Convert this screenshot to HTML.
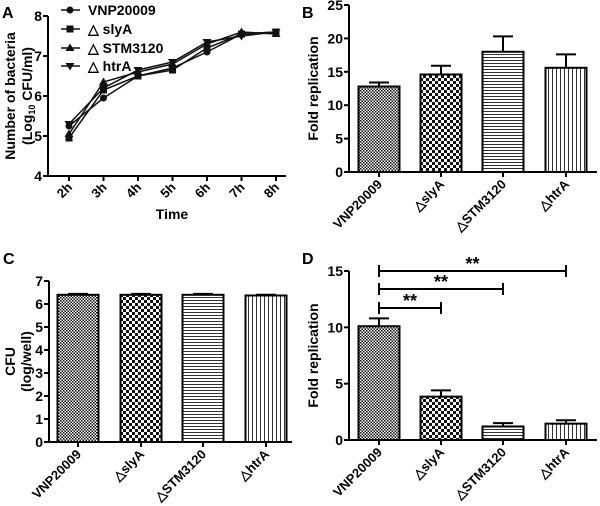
<!DOCTYPE html>
<html><head><meta charset="utf-8"><style>
html,body{margin:0;padding:0;background:#fff;width:600px;height:506px;overflow:hidden}
svg{display:block;font-family:"Liberation Sans",Arial,sans-serif;font-weight:bold}
</style></head><body>
<svg id="fig" width="600" height="506" viewBox="0 0 600 506" xmlns="http://www.w3.org/2000/svg">
<defs>
<pattern id="pVnp" width="3" height="3" patternUnits="userSpaceOnUse"><rect width="3" height="3" fill="#fff"/><rect width="1.5" height="1.5" fill="#111"/><rect x="1.5" y="1.5" width="1.5" height="1.5" fill="#111"/></pattern>
<pattern id="pSly" width="6" height="6" patternUnits="userSpaceOnUse"><rect width="6" height="6" fill="#fff"/><rect width="3" height="3" fill="#111"/><rect x="3" y="3" width="3" height="3" fill="#111"/></pattern>
<pattern id="pStm" width="4" height="3" patternUnits="userSpaceOnUse"><rect width="4" height="3" fill="#fff"/><rect width="4" height="1" fill="#333"/></pattern>
<pattern id="pHtr" width="4" height="4" patternUnits="userSpaceOnUse"><rect width="4" height="4" fill="#fff"/><rect width="1" height="4" fill="#333"/></pattern>
</defs>
</svg>
<script>
// Panel A data
const timeLabels=["2h","3h","4h","5h","6h","7h","8h"];
const seriesNames=["VNP20009","△ slyA","△ STM3120","△ htrA"];
const vnpGrowth=[5.25,5.95,6.5,6.7,7.1,7.55,7.6];
const slyGrowth=[4.95,6.15,6.5,6.65,7.2,7.55,7.6];
const stmGrowth=[5.05,6.35,6.6,6.8,7.3,7.6,7.55];
const htrGrowth=[5.3,6.2,6.65,6.85,7.35,7.5,7.6];
const aTicks=[4,5,6,7,8];
// Bar categories
const barCats=["VNP20009","△slyA","△STM3120","△htrA"];
// Panel B
const bVals=[12.8,14.6,18.0,15.6];
const bErr=[0.6,1.3,2.3,2.0];
const bTicks=[0,5,10,15,20,25];
// Panel C
const cVals=[6.4,6.4,6.4,6.37];
const cErr=[0.04,0.04,0.04,0.03];
const cTicks=[0,1,2,3,4,5,6,7];
// Panel D
const dVals=[10.1,3.85,1.2,1.45];
const dErr=[0.7,0.55,0.3,0.3];
const dTicks=[0,5,10,15];
const dSigTargets=[1,2,3];
const dSigLabels=["**","**","**"];

const NS="http://www.w3.org/2000/svg";
const svg=document.getElementById('fig');
function mk(tag,attrs,parent,text){const e=document.createElementNS(NS,tag);for(const k in attrs)e.setAttribute(k,attrs[k]);if(text!==undefined)e.textContent=text;(parent||svg).appendChild(e);return e;}
function grp(name){const g=mk('g',{});return g;}

function yAxis(g,x,y0,y1,ticks,sc){
  mk('line',{x1:x,y1:y0+1,x2:x,y2:y1,stroke:'#000','stroke-width':2},g);
  ticks.forEach(t=>{const y=sc(t);mk('line',{x1:x-5,y1:y,x2:x,y2:y,stroke:'#000','stroke-width':2},g);
    const tx=mk('text',{x:x-6,y:y+5,'text-anchor':'end','font-size':14},g,String(t));
    });
}
function label(txt,x,y){const t=mk('text',{x:x,y:y,'font-size':16},svg,txt);}

// ---------- Panel A ----------
(function(){
  const g=grp('panel-a-line-chart');
  const ax=48, y=v=>16+(8-v)*40, x=i=>69+i*34.5;
  yAxis(g,ax,176,16,aTicks,y);
  mk('line',{x1:ax-1,y1:176,x2:286,y2:176,stroke:'#000','stroke-width':2},g);
  timeLabels.forEach((l,i)=>{mk('line',{x1:x(i),y1:176,x2:x(i),y2:181,stroke:'#000','stroke-width':2},g);
    const t=mk('text',{x:x(i)+4,y:188,'text-anchor':'end','font-size':13,transform:`rotate(-45 ${x(i)+4} 188)`},g,l);
    });
  const xt=mk('text',{x:172,y:219,'text-anchor':'middle','font-size':14},g,'Time');
  const yt=mk('text',{transform:'translate(15,96) rotate(-90)','text-anchor':'middle','font-size':14},g,'Number of bacteria');
  const yt2=mk('text',{transform:'translate(32,96) rotate(-90)','text-anchor':'middle','font-size':14},g);
  mk('tspan',{},yt2,'(Log');mk('tspan',{'font-size':9,dy:3},yt2,'10');mk('tspan',{dy:-3},yt2,' CFU/ml)');
  const all=[vnpGrowth,slyGrowth,stmGrowth,htrGrowth];
  const names=['series-vnp20009','series-slya','series-stm3120','series-htra'];
  function marker(k,cx,cy,p){
    if(k===0)return mk('circle',{cx:cx,cy:cy,r:3.5,fill:'#111'},p);
    if(k===1)return mk('rect',{x:cx-3.5,y:cy-3.5,width:7,height:7,fill:'#111'},p);
    if(k===2)return mk('polygon',{points:`${cx},${cy-4.5} ${cx-4.5},${cy+3} ${cx+4.5},${cy+3}`,fill:'#111'},p);
    return mk('polygon',{points:`${cx},${cy+4.5} ${cx-4.5},${cy-3} ${cx+4.5},${cy-3}`,fill:'#111'},p);
  }
  all.forEach((s,k)=>{const sg=mk('g',{},g);
    mk('polyline',{points:s.map((v,i)=>x(i)+','+y(v)).join(' '),fill:'none',stroke:'#111','stroke-width':1.5},sg);
    s.forEach((v,i)=>{const m=marker(k,x(i),y(v),sg);});
  });
  const lg=grp('legend');
  seriesNames.forEach((n,k)=>{const ly=[10,29,48,66][k];
    const e=mk('g',{},lg);
    mk('line',{x1:61,y1:ly,x2:80,y2:ly,stroke:'#111','stroke-width':1.5},e);marker(k,70,ly,e);
    mk('text',{x:88,y:ly+5,'font-size':14},e,n);});
})();
label('A',2,18);

// ---------- bar helper ----------
function barPanel(name,ax,y0,yTop,maxV,ticks,vals,errs,xc,axEnd,yTitles){
  const g=grp(name);
  const sc=v=>y0-(v/maxV)*(y0-yTop);
  const pats=['pVnp','pSly','pStm','pHtr'];const bw=41;
  vals.forEach((v,i)=>{
    const top=sc(v);
    const eb=mk('line',{x1:xc[i],y1:top,x2:xc[i],y2:sc(v+errs[i]),stroke:'#000','stroke-width':2},g);
    
    const cap=mk('line',{x1:xc[i]-10,y1:sc(v+errs[i]),x2:xc[i]+10,y2:sc(v+errs[i]),stroke:'#000','stroke-width':2},g);
    
    const r=mk('rect',{x:xc[i]-bw/2,y:top,width:bw,height:y0-top,fill:`url(#${pats[i]})`,stroke:'#000','stroke-width':2},g);
    
    mk('line',{x1:xc[i],y1:y0,x2:xc[i],y2:y0+5,stroke:'#000','stroke-width':2},g);
    const t=mk('text',{x:xc[i]+4,y:y0+13,'text-anchor':'end','font-size':13,transform:`rotate(-45 ${xc[i]+4} ${y0+13})`},g,barCats[i]);
    
  });
  yAxis(g,ax,y0,yTop,ticks,sc);
  mk('line',{x1:ax-1,y1:y0,x2:axEnd,y2:y0,stroke:'#000','stroke-width':2},g);
  yTitles.forEach(([txt,x])=>{const my=(y0+yTop)/2;const t=mk('text',{transform:`translate(${x},${my}) rotate(-90)`,'text-anchor':'middle','font-size':14},g,txt);
    });
  return sc;
}
barPanel('panel-b-bar-chart',349,172,5,25,bTicks,bVals,bErr,[379,441,503,566],597,[['Fold replication',318]]);
label('B',302,18);
barPanel('panel-c-bar-chart',49,442,281,7,cTicks,cVals,cErr,[78,141,203,266],292,[['CFU',15],['(log/well)',31]]);
label('C',3,264);
const dsc=barPanel('panel-d-bar-chart',349,440,271,15,dTicks,dVals,dErr,[379,441,503,566],597,[['Fold replication',318]]);
label('D',302,264);
(function(){
  const xc=[379,441,503,566];const ys=[308,289,271];
  dSigTargets.forEach((j,k)=>{const g=grp('significance-bracket');const y=ys[k];
    mk('line',{x1:xc[0],y1:y,x2:xc[j],y2:y,stroke:'#000','stroke-width':2},g);
    mk('line',{x1:xc[0],y1:y-6,x2:xc[0],y2:y+6,stroke:'#000','stroke-width':2},g);
    mk('line',{x1:xc[j],y1:y-6,x2:xc[j],y2:y+6,stroke:'#000','stroke-width':2},g);
    mk('text',{x:(xc[0]+xc[j])/2,y:y-1,'text-anchor':'middle','font-size':18},g,dSigLabels[k]);});
})();
</script>
</body></html>
